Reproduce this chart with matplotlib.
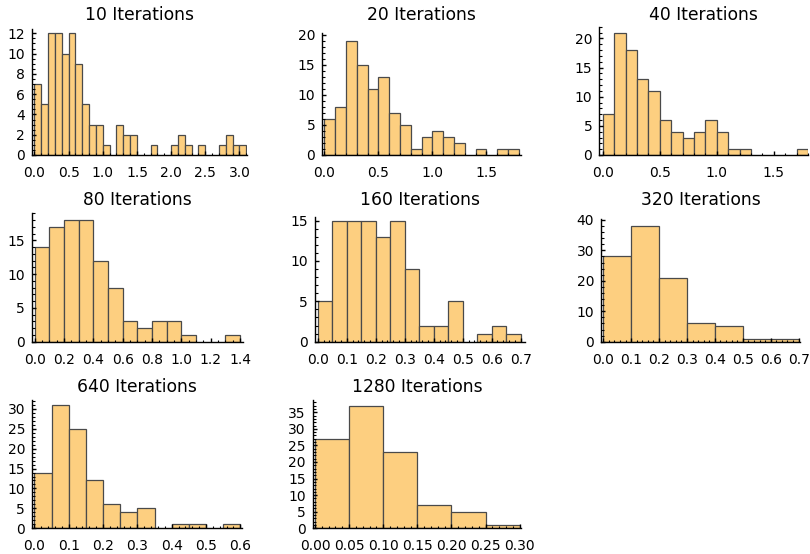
import numpy as np
import matplotlib
matplotlib.use("Agg")
import matplotlib.pyplot as plt
from matplotlib.ticker import MultipleLocator

# ---- data: histogram counts per run (100 samples each) ----
iterations = [10, 20, 40, 80, 160, 320, 640, 1280]

bin_width = [0.1, 0.1, 0.1, 0.1, 0.05, 0.1, 0.05, 0.05]

counts_10 = [7, 5, 12, 12, 10, 12, 9, 5, 3, 3, 1, 0, 3, 2, 2, 0, 0, 1, 0, 0,
             1, 2, 1, 0, 1, 0, 0, 1, 2, 1, 1]
counts_20 = [6, 8, 19, 15, 11, 13, 7, 5, 1, 3, 4, 3, 2, 0, 1, 0, 1, 1]
counts_40 = [7, 21, 18, 13, 11, 6, 4, 3, 4, 6, 4, 1, 1, 0, 0, 0, 0, 1]
counts_80 = [14, 17, 18, 18, 12, 8, 3, 2, 3, 3, 1, 0, 0, 1]
counts_160 = [5, 15, 15, 15, 13, 15, 9, 2, 2, 5, 0, 1, 2, 1]
counts_320 = [28, 38, 21, 6, 5, 1, 1]
counts_640 = [14, 31, 25, 12, 6, 4, 5, 0, 1, 1, 0, 1]
counts_1280 = [27, 37, 23, 7, 5, 1]

all_counts = [counts_10, counts_20, counts_40, counts_80,
              counts_160, counts_320, counts_640, counts_1280]

# ---- layout (pixels in an 810x554 canvas) and axis settings ----
W, H = 810, 554
# left, right, top, bottom of each axes in pixels
boxes = [
    (31.7, 247, 29.3, 155), (322.3, 521, 33.0, 155), (599.3, 808, 26.7, 155),
    (31.7, 243, 213.3, 341.7), (315, 525, 217.3, 341.7), (601, 800, 219.0, 341.7),
    (32.0, 242, 400, 528.3), (312.7, 521, 400, 528.3),
]
xlims = [(-0.04, 3.11), (-0.02, 1.82), (-0.03, 1.80), (-0.02, 1.42),
         (-0.01, 0.715), (-0.008, 0.705), (-0.007, 0.605), (-0.0034, 0.302)]
ylims = [12.4, 20.3, 22, 19, 15.4, 40.3, 32.2, 38.7]
x_major = [0.5, 0.5, 0.5, 0.2, 0.1, 0.1, 0.1, 0.05]
x_minor = [0.1, 0.1, 0.1, 0.05, 0.02, 0.02, 0.02, 0.01]
y_major = [2, 5, 5, 5, 5, 10, 5, 5]
y_minor = [0.5, 1, 1, 1, 1, 2, 1, 1]
x_fmt = ["%.1f"] * 7 + ["%.2f"]
title_y = [15, 15, 15, 200, 200, 200, 387, 387]

fill = "#fdcf80"
edge = "#4a4a4a"

plt.rcParams["font.family"] = ["DejaVu Sans"]

fig = plt.figure(figsize=(W / 100, H / 100), dpi=100)

for i, counts in enumerate(all_counts):
    l, r, t, b = boxes[i]
    ax = fig.add_axes([l / W, 1 - b / H, (r - l) / W, (b - t) / H])
    c = np.array(counts)
    lefts = np.arange(len(c)) * bin_width[i]
    keep = c > 0
    ax.bar(lefts[keep], c[keep], width=bin_width[i], align="edge",
           color=fill, edgecolor=edge, linewidth=0.9)

    ax.set_xlim(*xlims[i])
    ax.set_ylim(0, ylims[i])
    for s in ("top", "right"):
        ax.spines[s].set_visible(False)
    ax.spines["left"].set_linewidth(1.0)
    ax.spines["bottom"].set_linewidth(1.0)

    ax.xaxis.set_major_locator(MultipleLocator(x_major[i]))
    ax.xaxis.set_minor_locator(MultipleLocator(x_minor[i]))
    ax.yaxis.set_major_locator(MultipleLocator(y_major[i]))
    ax.yaxis.set_minor_locator(MultipleLocator(y_minor[i]))
    ax.xaxis.set_major_formatter(matplotlib.ticker.FormatStrFormatter(x_fmt[i]))

    ax.tick_params(which="major", direction="in", length=3.2, width=1.0,
                   labelsize=10, colors="black")
    ax.tick_params(axis="x", which="major", pad=8)
    ax.tick_params(axis="y", which="major", pad=5)
    ax.tick_params(which="minor", direction="in", length=1.8, width=0.8)

    fig.text(((l + r) / 2) / W, 1 - title_y[i] / H, f"{iterations[i]} Iterations",
             ha="center", va="center", fontsize=12.3)

fig.savefig("out.png", dpi=100)
